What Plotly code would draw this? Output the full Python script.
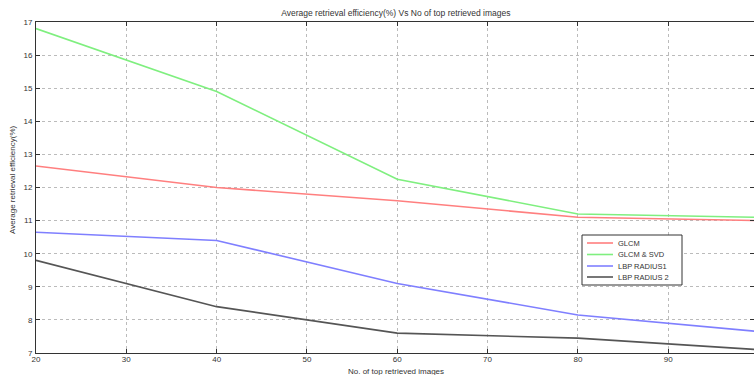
import plotly.graph_objects as go

x_vals = [20, 40, 60, 80, 100]
glcm = [12.65, 12.0, 11.6, 11.1, 11.0]
glcm_svd = [16.8, 14.9, 12.25, 11.2, 11.1]
lbp_r1 = [10.65, 10.4, 9.1, 8.15, 7.65]
lbp_r2 = [9.8, 8.4, 7.6, 7.45, 7.1]

names = ["GLCM", "GLCM & SVD", "LBP RADIUS1", "LBP RADIUS 2"]
colors = ["#ff7f7f", "#7fef7f", "#7f7fff", "#555555"]
series = [glcm, glcm_svd, lbp_r1, lbp_r2]

W, H = 754, 375
ML, MR, MT, MB = 36, 0, 22, 22
PW, PH = W - ML - MR, H - MT - MB


def px(xp):
    return (xp - ML) / PW


def py(yp):
    return (H - MB - yp) / PH


fig = go.Figure()
for n, c, s in zip(names, colors, series):
    fig.add_trace(go.Scatter(x=x_vals, y=s, mode="lines", name=n,
                             line=dict(color=c, width=1.6), showlegend=False))

axis_common = dict(showline=True, linecolor="#333", linewidth=1, mirror="ticks",
                   ticks="inside", ticklen=4, tickcolor="#333",
                   showgrid=True, gridcolor="#bbbbbb", griddash="dot", gridwidth=1,
                   zeroline=False, tickfont=dict(size=8, color="#333"), automargin=False)

fig.update_layout(
    width=W, height=H,
    margin=dict(l=ML, r=MR, t=MT, b=MB),
    paper_bgcolor="white", plot_bgcolor="white",
    font=dict(family="Liberation Sans, Arial, sans-serif", color="#333"),
    title=dict(text="Average retrieval efficiency(%) Vs No of top retrieved images",
               x=0.525, xanchor="center", y=1 - 13 / H, yanchor="middle", font=dict(size=8.5)),
    xaxis=dict(range=[20, 99.5], tickvals=[20, 30, 40, 50, 60, 70, 80, 90, 100],
               ticklabelstandoff=-2, **axis_common),
    yaxis=dict(range=[7, 17], dtick=1, ticklabelstandoff=1, **axis_common),
    showlegend=False,
)

# axis titles
fig.add_annotation(xref="paper", yref="paper", x=px(396), y=py(371),
                   text="No. of top retrieved images", showarrow=False,
                   xanchor="center", yanchor="middle", font=dict(size=8, color="#333"))
fig.add_annotation(xref="paper", yref="paper", x=px(12), y=py(180),
                   text="Average retrieval efficiency(%)", showarrow=False, textangle=-90,
                   xanchor="center", yanchor="middle", font=dict(size=8, color="#333"))

# legend box drawn manually to match compact spacing
lx0, lx1, ly0, ly1 = 582, 682, 235, 285
fig.add_shape(type="rect", xref="paper", yref="paper",
              x0=px(lx0), x1=px(lx1), y0=py(ly1), y1=py(ly0),
              line=dict(color="#333", width=1), fillcolor="white", layer="above")
rows = [243, 254.5, 266, 277]
for n, c, ry in zip(names, colors, rows):
    fig.add_shape(type="line", xref="paper", yref="paper",
                  x0=px(587), x1=px(613), y0=py(ry), y1=py(ry),
                  line=dict(color=c, width=1.6), layer="above")
    fig.add_annotation(xref="paper", yref="paper", x=px(616), y=py(ry),
                       text=n, showarrow=False, xanchor="left", yanchor="middle",
                       font=dict(size=7.5, color="#333"))

fig.write_html("out.html", config={"displayModeBar": False},
               post_script="document.body.style.margin='0';")
